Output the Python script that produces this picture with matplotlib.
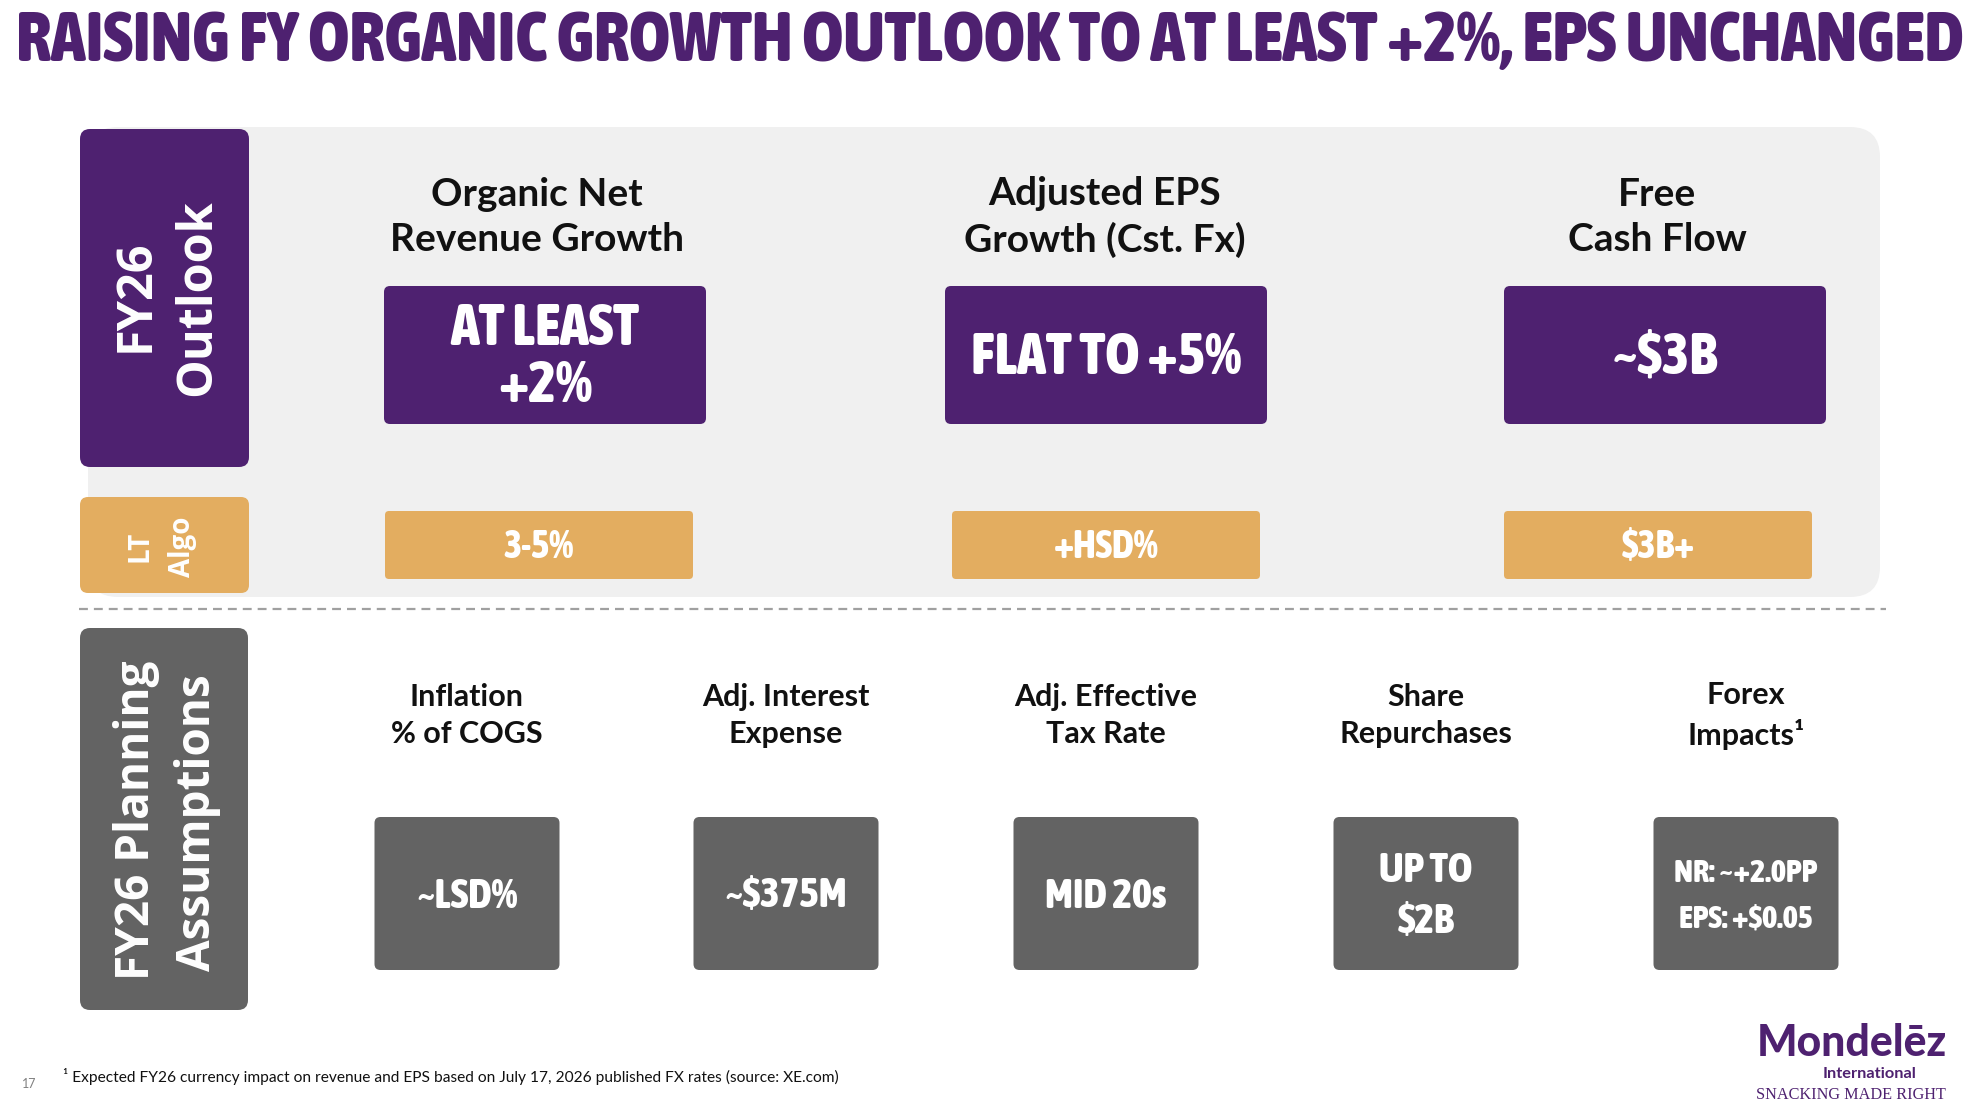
import matplotlib
matplotlib.use('Agg')
import matplotlib.pyplot as plt
from matplotlib import font_manager as fm
from matplotlib.patches import FancyBboxPatch

# slide content
title = 'RAISING FY ORGANIC GROWTH OUTLOOK TO AT LEAST +2%, EPS UNCHANGED'
outlook_headers = ['Organic Net\nRevenue Growth', 'Adjusted EPS\nGrowth (Cst. Fx)', 'Free\nCash Flow']
outlook_values = ['AT LEAST\n+2%', 'FLAT TO +5%', '~$3B']
algo_values = ['3-5%', '+HSD%', '$3B+']
assumption_headers = ['Inflation\n% of COGS', 'Adj. Interest\nExpense', 'Adj. Effective\nTax Rate',
                      'Share\nRepurchases', 'Forex\nImpacts\u00b9']
assumption_values = ['~LSD%', '~$375M', 'MID 20s', 'UP TO\n$2B', 'NR: ~+2.0PP\nEPS: +$0.05']
footnote = ('\u00b9 Expected FY26 currency impact on revenue and EPS based on '
            'July 17, 2026 published FX rates (source: XE.com)')
page_no = '17'

PURPLE = '#4e2170'
ORANGE = '#e3ad60'
GREY = '#636363'
PANEL = '#f0f0f0'

SANS = ['Lato', 'DejaVu Sans']
ROUND = ['Open Sans', 'DejaVu Sans']


def pick_condensed():
    # narrowest heavy sans face that is installed
    best = None
    for f in fm.fontManager.ttflist:
        if any(k in f.name for k in ('Mono', 'Serif', 'Symbol', 'Math', 'CJK', 'Emoji')):
            continue
        st = f.stretch if isinstance(f.stretch, int) else fm.stretch_dict.get(f.stretch, 500)
        w = f.weight if isinstance(f.weight, int) else fm.weight_dict.get(f.weight, 400)
        if st >= 500 or w < 600 or f.style != 'normal':
            continue
        key = (st, abs(w - 800))
        if best is None or key < best[0]:
            best = (key, f.name, st, w)
    if best is None:
        return dict(family=['DejaVu Sans'], weight='bold')
    return dict(family=[best[1], 'DejaVu Sans'], fontstretch=best[2], weight=best[3])


NARROW = pick_condensed()
BOLD_SANS = dict(family=SANS, weight='bold')

W, H = 1981, 1105
fig = plt.figure(figsize=(W / 100, H / 100), dpi=100)
ax = fig.add_axes([0, 0, 1, 1])
ax.set_xlim(0, W)
ax.set_ylim(H, 0)
ax.axis('off')
renderer = fig.canvas.get_renderer()


def metrics(s, t):
    w, h, d = renderer.get_text_width_height_descent(s, t.get_fontproperties(), ismath=False)
    return w, h, d


def fit_size(s, width, **kw):
    t = ax.text(0, 0, s, fontsize=40, **kw)
    w = metrics(s, t)[0]
    t.remove()
    return 40 * width / w


def cap_size(cap, **kw):
    t = ax.text(0, 0, 'H', fontsize=40, **kw)
    h = metrics('H', t)[1]
    t.remove()
    return 40 * cap / h


def fit_width(t, width):
    w = t.get_window_extent(renderer).width
    t.set_fontsize(t.get_fontsize() * width / w)


def box(x0, y0, w, h, color, r=6):
    ax.add_patch(FancyBboxPatch((x0, y0), w, h, boxstyle='round,pad=0,rounding_size=%d' % r,
                                fc=color, ec='none'))


def lines(x, yc, s, size, spacing, color, font):
    # one text object; capitals of the block centred on yc, baselines `spacing` apart
    t = ax.text(x, yc, s, ha='center', va='center', multialignment='center',
                fontsize=size, color=color, **font)
    cap = metrics('H', t)[1]
    _, lp_h, lp_d = metrics('lp', t)
    asc = lp_h - lp_d
    if '\n' in s:
        # matplotlib puts baselines lp_d + asc * linespacing apart
        t.set_linespacing(max(spacing - lp_d, 1) / asc)
    t.set_y(yc + cap / 2 + (lp_d - asc) / 2)
    return t


# title
t = ax.text(16, 61, title, ha='left', va='baseline', color=PURPLE, fontsize=44, **NARROW)
fit_width(t, 1950)

# light panel behind the outlook section
box(88, 127, 1792, 470, PANEL, r=30)

# left column labels
box(80, 129, 169, 338, PURPLE, r=10)
box(80, 497, 169, 96, ORANGE, r=8)
box(80, 628, 168, 382, GREY, r=10)
for xb, yc, s, size in [(149, 296, 'FY26', 35), (210, 298, 'Outlook', 35),
                        (148, 546, 'LT', 20), (190, 547, 'Algo', 20),
                        (149, 820, 'FY26 Planning', 33), (210, 823, 'Assumptions', 33)]:
    ax.text(xb, yc, s, rotation=90, rotation_mode='anchor', ha='center', va='baseline',
            color='white', family=ROUND, weight='bold', fontsize=size)

# font sizes per group: reference cap height, limited by the box widths
s_top = min(cap_size(42, **NARROW), fit_size('FLAT TO +5%', 305, **NARROW))
s_algo = min(cap_size(28, **NARROW), fit_size('+HSD%', 150, **NARROW))
s_bot = min(cap_size(30, **NARROW), fit_size('~$375M', 165, **NARROW),
            fit_size('MID 20s', 165, **NARROW))
s_fx = min(cap_size(23, **NARROW), fit_size('NR: ~+2.0PP', 165, **NARROW))

# FY26 outlook
top_x = [545, 1106, 1665]
head_x = [537, 1105, 1657]
algo_x = [539, 1106, 1658]
for i in range(3):
    lines(head_x[i], 214.5, outlook_headers[i], 28, 45, '#111111', BOLD_SANS)
    box(top_x[i] - 161, 286, 322, 138, PURPLE)
    lines(top_x[i], 353, outlook_values[i], s_top, 57, 'white', NARROW)
    box(algo_x[i] - 154, 511, 308, 68, ORANGE, r=4)
    lines(algo_x[i], 544, algo_values[i], s_algo, 0, 'white', NARROW)

# dashed separator
ax.plot([79, 1886], [609, 609], color='#a0a0a0', lw=1.6, dashes=(4, 2.7))

# planning assumptions
bot_x = [467, 786, 1106, 1426, 1746]
for i in range(5):
    lines(bot_x[i], 713.5, assumption_headers[i], 22, 37, '#111111', BOLD_SANS)
    box(bot_x[i] - 92.5, 817, 185, 153, GREY)
    v = assumption_values[i]
    if v.startswith('NR'):
        lines(bot_x[i], 894, v, s_fx, 45, 'white', NARROW)
    else:
        lines(bot_x[i], 893, v, s_bot, 50, 'white', NARROW)

# footnote and page number
t = ax.text(63, 1082, footnote, ha='left', va='baseline', family=SANS, fontsize=10.5,
            color='#111111')
fit_width(t, 783)
ax.text(22, 1088, page_no, ha='left', va='baseline', family=SANS, fontsize=9, color='#808080')

# logo
t = ax.text(1852, 1056, 'Mondel\u0113z', ha='center', va='baseline', family=SANS,
            weight='black', color=PURPLE, fontsize=26)
fit_width(t, 190)
t = ax.text(1870, 1078, 'International', ha='center', va='baseline', family=SANS,
            weight='bold', color=PURPLE, fontsize=11)
fit_width(t, 94)
t = ax.text(1851, 1099, 'SNACKING MADE RIGHT', ha='center', va='baseline',
            family=['Liberation Serif', 'DejaVu Serif'], color=PURPLE, fontsize=11)
fit_width(t, 189)

fig.savefig('out.png', dpi=100, facecolor='white')
